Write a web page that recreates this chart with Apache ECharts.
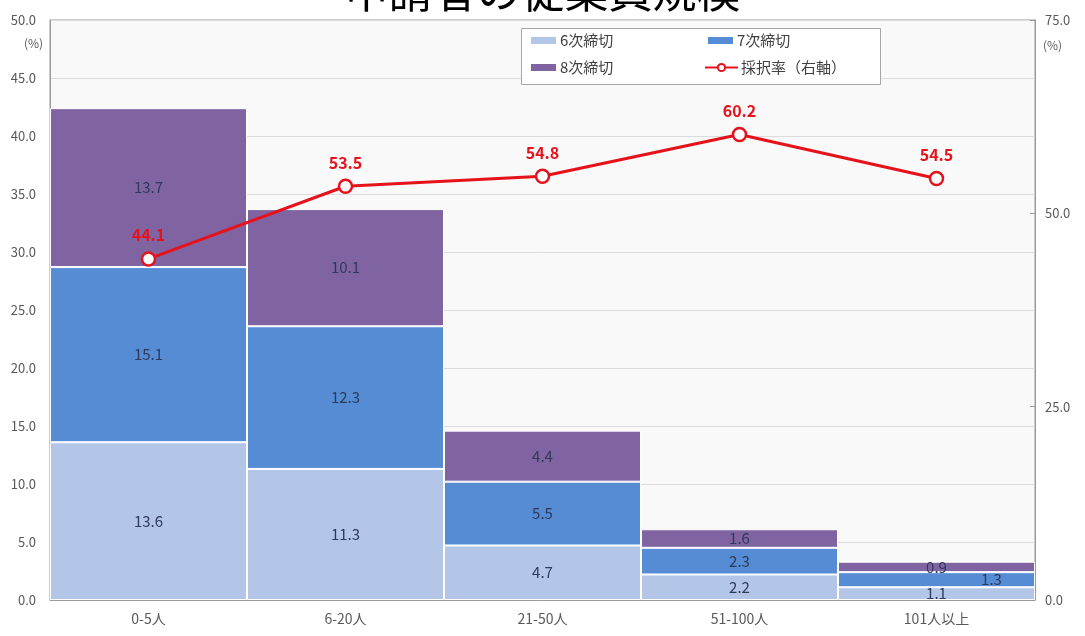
<!DOCTYPE html>
<html>
<head>
<meta charset="utf-8">
<script src="https://cdn.jsdelivr.net/npm/echarts@6/dist/echarts.min.js"></script>
<style>
html,body{margin:0;padding:0;background:#fff;}
#chart{width:1085px;height:636px;}
</style>
</head>
<body>
<div id="chart"></div>
<script>
const categories = ['0-5人', '6-20人', '21-50人', '51-100人', '101人以上'];
const round6 = [13.6, 11.3, 4.7, 2.2, 1.1];
const round7 = [15.1, 12.3, 5.5, 2.3, 1.3];
const round8 = [13.7, 10.1, 4.4, 1.6, 0.9];
const adoptionRate = [44.1, 53.5, 54.8, 60.2, 54.5];
const seriesNames = ['6次締切', '7次締切', '8次締切', '採択率（右軸）'];
const titleText = '申請者の従業員規模';

const font = '"Noto Sans CJK JP", "Noto Sans", sans-serif';
const labelColor = '#2e3a5c';

function barLabel(extra) {
  return Object.assign({
    show: true,
    position: 'inside',
    color: labelColor,
    fontSize: 15,
    fontFamily: font,
    formatter: p => p.value.toFixed(1)
  }, extra || {});
}

function legendAt(name, left, top, icon) {
  const item = icon ? { name: name, icon: icon } : { name: name };
  return {
    left: left, top: top, padding: 0, z: 10,
    itemWidth: icon ? 27 : 33, itemHeight: 9, itemGap: 0,
    data: [item],
    textStyle: { fontSize: 15, color: '#404040', fontFamily: font, padding: [0, 0, 0, -2] }
  };
}

const chart = echarts.init(document.getElementById('chart'));
chart.setOption({
  backgroundColor: '#ffffff',
  animation: false,
  textStyle: { fontFamily: font },
  title: {
    text: titleText,
    left: 'center',
    top: -36,
    textStyle: { fontSize: 44, fontWeight: 'normal', color: '#000', fontFamily: font }
  },
  legend: [
    legendAt(seriesNames[0], 529, 33, 'rect'),
    legendAt(seriesNames[1], 706, 33, 'rect'),
    legendAt(seriesNames[2], 529, 60, 'rect'),
    legendAt(seriesNames[3], 704, 60, null)
  ],
  grid: {
    left: 50, right: 50, top: 20, bottom: 36,
    show: true,
    backgroundColor: '#f9f9f9',
    borderColor: '#9a9a9a',
    borderWidth: 1
  },
  xAxis: {
    type: 'category',
    data: categories,
    axisTick: { show: false },
    axisLine: { lineStyle: { color: '#9a9a9a' } },
    axisLabel: { color: '#595959', fontSize: 14, margin: 12, fontFamily: font }
  },
  yAxis: [
    {
      type: 'value', min: 0, max: 50, interval: 5,
      axisLine: { show: true, lineStyle: { color: '#9a9a9a' } },
      axisTick: { show: false },
      splitLine: { lineStyle: { color: '#dcdcdc' } },
      axisLabel: { color: '#595959', fontSize: 13, margin: 14, formatter: v => v.toFixed(1), fontFamily: font }
    },
    {
      type: 'value', min: 0, max: 75, interval: 25,
      axisLine: { show: true, lineStyle: { color: '#9a9a9a' } },
      axisTick: { show: true, inside: true, length: 5, lineStyle: { color: '#9a9a9a' } },
      splitLine: { show: false },
      axisLabel: { color: '#595959', fontSize: 13, margin: 10, formatter: v => v.toFixed(1), fontFamily: font }
    }
  ],
  series: [
    {
      name: seriesNames[0], type: 'bar', stack: 'total', data: round6,
      barWidth: '100%', barCategoryGap: '0%',
      itemStyle: { color: '#b4c6e7', borderColor: '#ffffff', borderWidth: 1 },
      label: barLabel()
    },
    {
      name: seriesNames[1], type: 'bar', stack: 'total',
      data: round7.map((v, i) => i === 4 ? { value: v, label: { offset: [55, 0] } } : v),
      barWidth: '100%', barCategoryGap: '0%',
      itemStyle: { color: '#558cd4', borderColor: '#ffffff', borderWidth: 1 },
      label: barLabel()
    },
    {
      name: seriesNames[2], type: 'bar', stack: 'total', data: round8,
      barWidth: '100%', barCategoryGap: '0%',
      itemStyle: { color: '#8064a2', borderColor: '#ffffff', borderWidth: 1 },
      label: barLabel()
    },
    {
      name: seriesNames[3], type: 'line', yAxisIndex: 1, data: adoptionRate,
      symbol: 'circle', symbolSize: 13,
      lineStyle: { color: '#e5121b', width: 3 },
      itemStyle: { color: '#ffffff', borderColor: '#e5121b', borderWidth: 2.5 },
      label: {
        show: true, position: 'top', distance: 8,
        color: '#e5121b', fontSize: 16, fontWeight: 'bold', fontFamily: font,
        formatter: p => p.value.toFixed(1)
      },
      z: 5
    }
  ],
  graphic: {
    elements: [
      { type: 'rect', left: 521, top: 28, z: 8,
        shape: { width: 359, height: 56 },
        style: { fill: '#ffffff', stroke: '#a6a6a6', lineWidth: 1 } },
      { type: 'text', left: 24, top: 37, style: { text: '(%)', fill: '#595959', font: '12px ' + font } },
      { type: 'text', left: 1043, top: 39, style: { text: '(%)', fill: '#595959', font: '12px ' + font } }
    ]
  }
});
</script>
</body>
</html>
